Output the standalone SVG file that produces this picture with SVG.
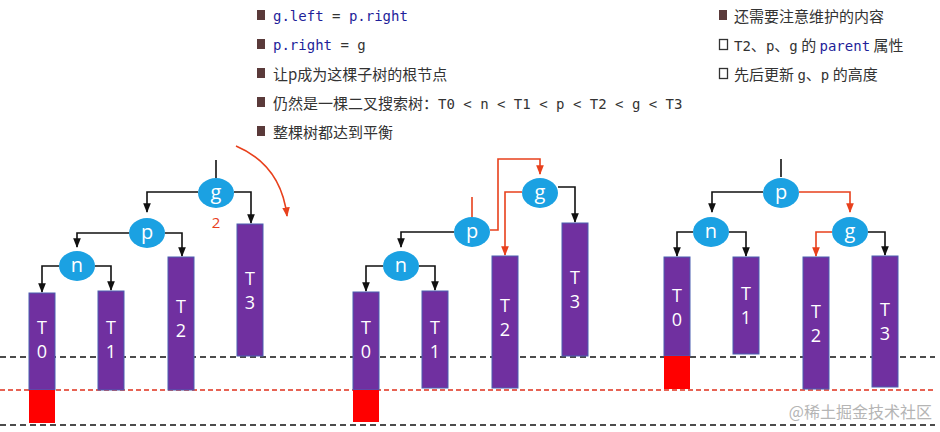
<svg xmlns="http://www.w3.org/2000/svg" width="940" height="432" viewBox="0 0 940 432">
<defs>
<style>
.t{font-family:"Noto Sans CJK SC","Liberation Sans",sans-serif;font-size:15px;fill:#333}
.c{font-family:"DejaVu Sans Mono","Liberation Mono",monospace;font-size:14px;fill:#333}
.b{fill:#1f1f9a}
.nd ellipse{fill:#1ba1e2}
.nd text,.tr text{font-family:"Open Sans","Liberation Sans",sans-serif;fill:#fff;text-anchor:middle}
.nd text{font-size:20px}
.tr rect{fill:#7030a0;stroke:#4a5fb0;stroke-width:1}
.tr text{font-size:18px}
.k{fill:none;stroke:#111;stroke-width:1.6}
.r{fill:none;stroke:#e8401c;stroke-width:1.6}
.dk{stroke:#111;stroke-width:1.4;stroke-dasharray:6 4}
.dr{stroke:#e0301c;stroke-width:1.3;stroke-dasharray:5 3}
</style>
<marker id="ak" viewBox="0 0 10 10" refX="9" refY="5" markerWidth="6" markerHeight="6" orient="auto"><path d="M0,1L10,5L0,9z" fill="#111"/></marker>
<marker id="ar" viewBox="0 0 10 10" refX="9" refY="5" markerWidth="6" markerHeight="6" orient="auto"><path d="M0,1L10,5L0,9z" fill="#e8401c"/></marker>
</defs>
<rect width="940" height="432" fill="#fff"/>
<g id="text">
<rect x="257" y="10" width="8" height="10" fill="#5a3a3a"/><text x="273" y="21" class="c"><tspan class="b">g.left</tspan> = <tspan class="b">p.right</tspan></text>
<rect x="257" y="39" width="8" height="10" fill="#5a3a3a"/><text x="273" y="50" class="c"><tspan class="b">p.right</tspan> = g</text>
<rect x="257" y="68" width="8" height="10" fill="#5a3a3a"/><text x="273" y="80" class="t">让p成为这棵子树的根节点</text>
<rect x="257" y="97" width="8" height="10" fill="#5a3a3a"/><text x="273" y="109" class="t">仍然是一棵二叉搜索树：<tspan class="c">T0 &lt; n &lt; T1 &lt; p &lt; T2 &lt; g &lt; T3</tspan></text>
<rect x="257" y="126" width="8" height="10" fill="#5a3a3a"/><text x="273" y="138" class="t">整棵树都达到平衡</text>
<rect x="719" y="10" width="8" height="10" fill="#5a3a3a"/><text x="734" y="22" class="t">还需要注意维护的内容</text>
<rect x="719.5" y="39.5" width="8" height="10" fill="none" stroke="#333" stroke-width="1.3"/><text x="734" y="51" class="t"><tspan class="c">T2</tspan>、<tspan class="c">p</tspan>、<tspan class="c">g</tspan> 的 <tspan class="c b">parent</tspan> 属性</text>
<rect x="719.5" y="68.5" width="8" height="10" fill="none" stroke="#333" stroke-width="1.3"/><text x="734" y="80" class="t">先后更新 <tspan class="c">g</tspan>、<tspan class="c">p</tspan> 的高度</text>
</g>
<g id="levels">
<line x1="0" y1="357" x2="935" y2="357" class="dk"/>
<line x1="0" y1="390" x2="935" y2="390" class="dr"/>
<line x1="0" y1="425" x2="935" y2="425" class="dk"/>
</g>
<g id="connectors">
<path class="k" d="M216,160V178"/>
<path class="k" d="M198,192H147V212" marker-end="url(#ak)"/>
<path class="k" d="M234,192H251V223" marker-end="url(#ak)"/>
<path class="k" d="M129,233H77V247" marker-end="url(#ak)"/>
<path class="k" d="M165,233H182V256" marker-end="url(#ak)"/>
<path class="k" d="M59,266H42V292" marker-end="url(#ak)"/>
<path class="k" d="M95,266H111V290" marker-end="url(#ak)"/>
<path class="r" d="M236,146Q281,165 287,216" marker-end="url(#ar)"/>
<path class="r" d="M472,197V217"/>
<path class="k" d="M454,232H401V247" marker-end="url(#ak)"/>
<path class="k" d="M383,266H366V291" marker-end="url(#ak)"/>
<path class="k" d="M419,266H435V290" marker-end="url(#ak)"/>
<path class="r" d="M490,230H498V159H540V174" marker-end="url(#ar)"/>
<path class="k" d="M558,187H575V222" marker-end="url(#ak)"/>
<path class="r" d="M522,192H505V255" marker-end="url(#ar)"/>
<path class="k" d="M781,159V177"/>
<path class="k" d="M763,192H712V212" marker-end="url(#ak)"/>
<path class="r" d="M799,192H850V212" marker-end="url(#ar)"/>
<path class="k" d="M693,232H677V256" marker-end="url(#ak)"/>
<path class="k" d="M729,232H746V256" marker-end="url(#ak)"/>
<path class="r" d="M832,232H816V256" marker-end="url(#ar)"/>
<path class="k" d="M868,232H885V255" marker-end="url(#ak)"/>
</g>
<text x="216" y="228" font-family="Open Sans,Liberation Sans,sans-serif" font-size="15" fill="#e8401c" text-anchor="middle">2</text>
<g id="L-T0" class="tr"><rect x="29" y="293" width="26" height="97"/><rect x="29" y="390" width="26" height="33" style="fill:#f00;stroke:none"/><text x="42" y="334">T</text><text x="42" y="358">0</text></g>
<g id="L-T1" class="tr"><rect x="98" y="291" width="26" height="99"/><text x="111" y="334">T</text><text x="111" y="358">1</text></g>
<g id="L-T2" class="tr"><rect x="168" y="257" width="26" height="133"/><text x="181" y="313">T</text><text x="181" y="337">2</text></g>
<g id="L-T3" class="tr"><rect x="237" y="224" width="26" height="132"/><text x="250" y="285">T</text><text x="250" y="309">3</text></g>
<g id="L-g" class="nd"><ellipse cx="216" cy="193" rx="18" ry="15"/><text x="216" y="199">g</text></g>
<g id="L-p" class="nd"><ellipse cx="147" cy="233" rx="18" ry="15"/><text x="147" y="239">p</text></g>
<g id="L-n" class="nd"><ellipse cx="77" cy="266" rx="18" ry="15"/><text x="77" y="272">n</text></g>
<g id="M-T0" class="tr"><rect x="353" y="292" width="26" height="98"/><rect x="353" y="390" width="26" height="32" style="fill:#f00;stroke:none"/><text x="366" y="334">T</text><text x="366" y="358">0</text></g>
<g id="M-T1" class="tr"><rect x="422" y="291" width="26" height="97"/><text x="435" y="334">T</text><text x="435" y="358">1</text></g>
<g id="M-T2" class="tr"><rect x="492" y="256" width="26" height="132"/><text x="505" y="312">T</text><text x="505" y="336">2</text></g>
<g id="M-T3" class="tr"><rect x="562" y="223" width="26" height="133"/><text x="575" y="284">T</text><text x="575" y="308">3</text></g>
<g id="M-g" class="nd"><ellipse cx="540" cy="193" rx="18" ry="15"/><text x="540" y="199">g</text></g>
<g id="M-p" class="nd"><ellipse cx="472" cy="232" rx="18" ry="15"/><text x="472" y="238">p</text></g>
<g id="M-n" class="nd"><ellipse cx="401" cy="266" rx="18" ry="15"/><text x="401" y="272">n</text></g>
<g id="R-T0" class="tr"><rect x="664" y="257" width="26" height="99"/><rect x="664" y="356" width="26" height="33" style="fill:#f00;stroke:none"/><text x="677" y="302">T</text><text x="677" y="326">0</text></g>
<g id="R-T1" class="tr"><rect x="733" y="257" width="26" height="97"/><text x="746" y="300">T</text><text x="746" y="324">1</text></g>
<g id="R-T2" class="tr"><rect x="803" y="257" width="26" height="132"/><text x="816" y="318">T</text><text x="816" y="342">2</text></g>
<g id="R-T3" class="tr"><rect x="872" y="256" width="26" height="131"/><text x="885" y="316">T</text><text x="885" y="340">3</text></g>
<g id="R-p" class="nd"><ellipse cx="781" cy="193" rx="18" ry="15"/><text x="781" y="199">p</text></g>
<g id="R-n" class="nd"><ellipse cx="711" cy="232" rx="18" ry="15"/><text x="711" y="238">n</text></g>
<g id="R-g" class="nd"><ellipse cx="850" cy="232" rx="18" ry="15"/><text x="850" y="238">g</text></g>
<text x="932" y="418" text-anchor="end" font-family="Noto Sans CJK SC,sans-serif" font-size="16" fill="#b5b5b5">@稀土掘金技术社区</text>
</svg>
